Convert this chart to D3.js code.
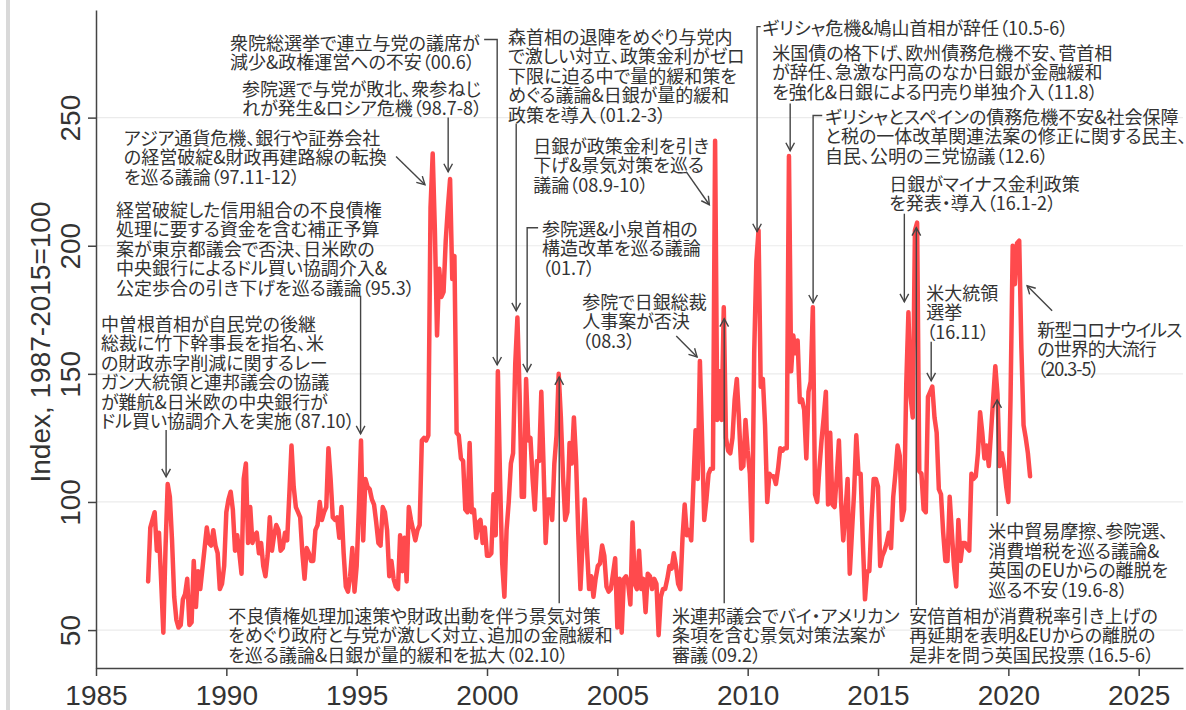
<!DOCTYPE html>
<html>
<head>
<meta charset="utf-8">
<script src="https://cdn.jsdelivr.net/npm/d3@7"></script>
<style>
  body { margin: 0; background: #fff; }
  svg text { fill: #333; }
</style>
</head>
<body>
<div id="chart"></div>
<script>
// monthly index, Jan 1987 onwards
const startYear = 1987;
const epu = [
  69, 90, 93, 96, 81, 88, 69, 49, 82, 107, 102, 85,
  63, 54, 51, 52, 62, 64, 70, 52, 53, 77, 59, 73,
  66, 74, 82, 90, 84, 83, 89, 83, 80, 66, 68, 75,
  96, 101, 104, 97, 81, 87, 80, 72, 109, 115, 84, 98,
  84, 87, 88, 80, 84, 75, 71, 79, 94, 81, 87, 91,
  89, 81, 82, 88, 85, 103, 122, 106, 98, 96, 94, 80,
  70, 82, 80, 77, 77, 89, 91, 100, 93, 96, 98, 121,
  109, 94, 93, 94, 86, 98, 80, 67, 65, 71, 82, 65,
  75, 97, 124, 85, 109, 106, 105, 101, 99, 92, 84, 83,
  98, 96, 89, 71, 77, 70, 67, 66, 87, 73, 86, 69,
  98, 93, 89, 85, 89, 91, 124, 125, 124, 126, 215, 236,
  206, 165, 191, 180, 182, 202, 215, 226, 187, 196, 127, 126,
  117, 116, 97, 96, 123, 96, 97, 86, 92, 93, 84, 90,
  79, 79, 80, 103, 87, 151, 109, 76, 63, 89, 100, 115,
  119, 154, 172, 142, 102, 102, 148, 124, 125, 109, 97, 116,
  116, 143, 115, 84, 101, 101, 93, 115, 126, 150, 133, 110,
  93, 96, 123, 115, 133, 116, 88, 66, 84, 101, 82, 66,
  71, 63, 70, 75, 76, 83, 79, 67, 65, 66, 72, 78,
  51, 70, 49, 70, 71, 68, 60, 92, 68, 66, 81, 66,
  70, 57, 72, 71, 66, 70, 68, 48, 63, 66, 66, 70,
  75, 74, 80, 75, 68, 66, 86, 99, 87, 89, 85, 107,
  128, 109, 155, 125, 93, 101, 111, 113, 113, 241, 132, 151,
  132, 176, 125, 120, 119, 125, 140, 148, 132, 113, 114, 132,
  120, 111, 85, 158, 194, 206, 145, 148, 130, 100, 111, 110,
  110, 107, 113, 121, 120, 121, 121, 235, 151, 165, 158, 163,
  139, 140, 136, 117, 143, 147, 176, 103, 100, 113, 124, 133,
  143, 99, 127, 99, 98, 110, 124, 100, 85, 96, 109, 72,
  88, 104, 126, 111, 111, 85, 62, 73, 73, 93, 109, 109,
  106, 75, 79, 81, 84, 88, 82, 102, 111, 122, 118, 93,
  97, 146, 174, 141, 133, 206, 209, 112, 111, 97, 96, 141,
  143, 145, 133, 127, 105, 103, 88, 77, 77, 102, 88, 75,
  67, 93, 77, 84, 84, 82, 81, 111, 109, 110, 119, 135,
  127, 117, 122, 114, 127, 140, 153, 142, 114, 119, 114, 106,
  100, 140, 200, 185, 201, 202, 160, 130, 125, 119, 110
];

const xTicks = [1985, 1990, 1995, 2000, 2005, 2010, 2015, 2020, 2025];
const yTicks = [50, 100, 150, 200, 250];
const yTitle = "Index, 1987-2015=100";

// annotation texts; "at" = [year, index] of first line, "path" = leader line ending in an arrow
const notes = [
  { lines: ["衆院総選挙で連立与党の議席が", "減少&政権運営への不安（00.6）"],
    at: [1990.14, 279.7], path: [[1999.89, 280.5], [2000.39, 280.5], [2000.39, 153.5]] },
  { lines: ["参院選で与党が敗北、衆参ねじ", "れが発生&ロシア危機（98.7-8）"],
    at: [1990.60, 261.7], path: [[1998.51, 250], [1998.51, 228.9]] },
  { lines: ["アジア通貨危機、銀行や証券会社", "の経営破綻&財政再建路線の転換", "を巡る議論（97.11-12）"],
    at: [1986.07, 242.6], path: [[1996.51, 234.8], [1997.62, 223.8]] },
  { lines: ["経営破綻した信用組合の不良債権", "処理に要する資金を含む補正予算", "案が東京都議会で否決、日米欧の", "中央銀行によるドル買い協調介入&", "公定歩合の引き下げを巡る議論（95.3）"],
    at: [1985.77, 214.5], path: [[1995.15, 180.5], [1995.15, 126.6]] },
  { lines: ["中曽根首相が自民党の後継", "総裁に竹下幹事長を指名、米", "の財政赤字削減に関するレー", "ガン大統領と連邦議会の協議", "が難航&日米欧の中央銀行が", "ドル買い協調介入を実施（87.10）"],
    at: [1985.19, 169.9], path: [[1987.69, 128.1], [1987.69, 109.8]] },
  { lines: ["森首相の退陣をめぐり与党内", "で激しい対立、政策金利がゼロ", "下限に迫る中で量的緩和策を", "めぐる議論&日銀が量的緩和", "政策を導入（01.2-3）"],
    at: [2000.81, 282], path: [[2001.12, 247.7], [2001.12, 174.6]] },
  { lines: ["日銀が政策金利を引き", "下げ&景気対策を巡る", "議論（08.9-10）"],
    at: [2001.77, 239.5], path: [[2007.64, 228.9], [2008.53, 216]] },
  { lines: ["参院選&小泉首相の", "構造改革を巡る議論", "（01.7）"],
    at: [2002.11, 207], path: [[2001.96, 207], [2001.54, 207], [2001.54, 150.8]] },
  { lines: ["参院で日銀総裁", "人事案が否決", "（08.3）"],
    at: [2003.65, 178.5], path: [[2007.26, 164.8], [2008.06, 156.6]] },
  { lines: ["ギリシャ危機&鳩山首相が辞任（10.5-6）"],
    at: [2010.56, 285.5], path: [[2010.50, 285.5], [2010.36, 285.5], [2010.36, 205.5]] },
  { lines: ["米国債の格下げ、欧州債務危機不安、菅首相", "が辞任、急激な円高のなか日銀が金融緩和", "を強化&日銀による円売り単独介入（11.8）"],
    at: [2010.94, 275.8], path: [[2011.63, 255.5], [2011.63, 237.1]] },
  { lines: ["ギリシャとスペインの債務危機不安&社会保障", "と税の一体改革関連法案の修正に関する民主、", "自民、公明の三党協議（12.6）"],
    at: [2012.97, 250.8], path: [[2012.86, 250.8], [2012.51, 250.8], [2012.51, 177.7]] },
  { lines: ["日銀がマイナス金利政策", "を発表・導入（16.1-2）"],
    at: [2015.43, 224.6], path: [[2016.01, 212.5], [2016.01, 178.1]] },
  { lines: ["米大統領", "選挙", "（16.11）"],
    at: [2016.85, 182], path: [[2017.04, 162.5], [2017.04, 147.3]] },
  { lines: ["新型コロナウイルス", "の世界的大流行", "（20.3-5）"], tight: true,
    at: [2021.11, 167.6], path: [[2021.68, 174.6], [2020.72, 184.4]] },
  { lines: ["米中貿易摩擦、参院選、", "消費増税を巡る議論&", "英国のEUからの離脱を", "巡る不安（19.6-8）"],
    at: [2019.23, 89], path: [[2019.57, 94.5], [2019.57, 139.8]] },
  { lines: ["安倍首相が消費税率引き上げの", "再延期を表明&EUからの離脱の", "是非を問う英国民投票（16.5-6）"],
    at: [2016.20, 55.9], path: [[2016.47, 59.8], [2016.47, 207]] },
  { lines: ["米連邦議会でバイ・アメリカン", "条項を含む景気対策法案が", "審議（09.2）"],
    at: [2007.10, 55.9], path: [[2009.10, 60.5], [2009.10, 171.5]] },
  { lines: ["不良債権処理加速策や財政出動を伴う景気対策", "をめぐり政府と与党が激しく対立、追加の金融緩和", "を巡る議論&日銀が量的緩和を拡大（02.10）"],
    at: [1990.07, 55.9], path: [[2002.77, 60.5], [2002.77, 148.8]] }
];

const width = 1186, height = 710;
const plot = { left: 96, right: 1183, top: 10, bottom: 668 };

const svg = d3.select("#chart").append("svg")
  .attr("width", width)
  .attr("height", height);

// thin grey strip at the far left
svg.append("rect")
  .attr("x", 6).attr("y", 0)
  .attr("width", 4).attr("height", height)
  .attr("fill", "#d9d9d9");

const x = d3.scaleLinear().domain([1985, 2026.7]).range([plot.left, plot.right]);
const y = d3.scaleLinear().domain([35.2, 292]).range([plot.bottom, plot.top]);

// gridlines
svg.append("g")
  .selectAll("line")
  .data(yTicks)
  .join("line")
  .attr("x1", plot.left).attr("x2", plot.right)
  .attr("y1", d => y(d)).attr("y2", d => y(d))
  .attr("stroke", "#ebebeb")
  .attr("stroke-width", 1.2);

// axes
const xAxis = svg.append("g")
  .attr("transform", `translate(0,${plot.bottom})`)
  .call(d3.axisBottom(x).tickValues(xTicks).tickFormat(d3.format("d")).tickSize(8).tickSizeOuter(0));
xAxis.selectAll("text")
  .attr("y", 37).attr("dy", 0)
  .style("font-family", "'Liberation Sans', Arial, sans-serif")
  .style("font-size", "28px");

const yAxis = svg.append("g")
  .attr("transform", `translate(${plot.left},0)`)
  .call(d3.axisLeft(y).tickValues(yTicks).tickSize(8).tickSizeOuter(0));
yAxis.selectAll("text")
  .attr("transform", "rotate(-90)")
  .attr("x", 0).attr("y", -16).attr("dy", 0)
  .attr("text-anchor", "middle")
  .style("font-family", "'Liberation Sans', Arial, sans-serif")
  .style("font-size", "28px");

svg.selectAll(".domain, .tick line")
  .attr("stroke", "#444")
  .attr("stroke-width", 1.5);

svg.append("text")
  .attr("transform", `translate(50,${(plot.top + plot.bottom) / 2 + 3}) rotate(-90)`)
  .attr("text-anchor", "middle")
  .style("font-family", "'Liberation Sans', Arial, sans-serif")
  .style("font-size", "28px")
  .text(yTitle);

// the series
const line = d3.line()
  .x((d, i) => x(startYear + i / 12))
  .y(d => y(d));

svg.append("path")
  .datum(epu)
  .attr("d", line)
  .attr("fill", "none")
  .attr("stroke", "#ff4a4d")
  .attr("stroke-width", 4.5)
  .attr("stroke-linejoin", "round")
  .attr("stroke-linecap", "round");

// annotations (proportional kana like the original)
const ann = svg.append("g")
  .style("font-family", "'Noto Sans CJK JP', sans-serif")
  .style("font-size", "18px")
  .style("font-feature-settings", "'palt' 1");

notes.forEach(n => {
  const t = ann.append("text")
    .attr("x", x(n.at[0]))
    .attr("y", y(n.at[1]))
    .attr("dominant-baseline", "central")
    .style("letter-spacing", n.tight ? "-1px" : null);
  n.lines.forEach((s, k) => {
    t.append("tspan")
      .attr("x", x(n.at[0]))
      .attr("dy", k === 0 ? 0 : 19.5)
      .text(s);
  });

  const pts = n.path.map(p => [x(p[0]), y(p[1])]);
  ann.append("path")
    .attr("d", d3.line()(pts))
    .attr("fill", "none")
    .attr("stroke", "#444")
    .attr("stroke-width", 1.4);

  // open arrow head at the last point
  const [x1, y1] = pts[pts.length - 2];
  const [x2, y2] = pts[pts.length - 1];
  const a = Math.atan2(y2 - y1, x2 - x1);
  const len = 9, spread = 0.5;
  const head = [
    [x2 - len * Math.cos(a - spread), y2 - len * Math.sin(a - spread)],
    [x2, y2],
    [x2 - len * Math.cos(a + spread), y2 - len * Math.sin(a + spread)]
  ];
  ann.append("path")
    .attr("d", d3.line()(head))
    .attr("fill", "none")
    .attr("stroke", "#444")
    .attr("stroke-width", 1.4);
});
</script>
</body>
</html>
